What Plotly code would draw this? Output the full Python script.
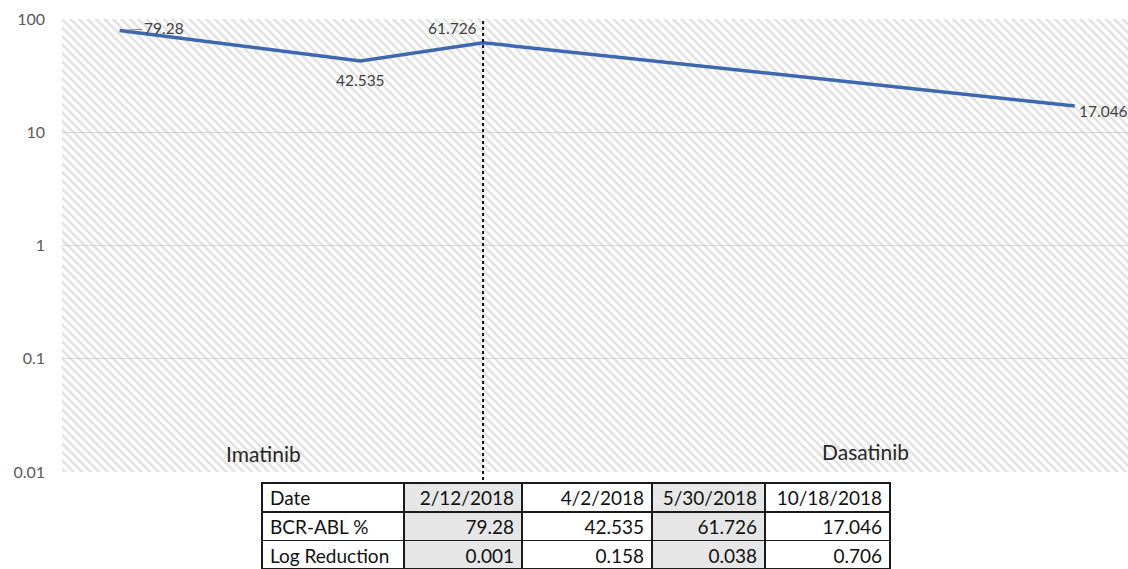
import math
import plotly.graph_objects as go

# ---- data ----
dates = ["2/12/2018", "4/2/2018", "5/30/2018", "10/18/2018"]
bcr_abl = [79.28, 42.535, 61.726, 17.046]
bcr_abl_text = ["79.28", "42.535", "61.726", "17.046"]
log_reduction = ["0.001", "0.158", "0.038", "0.706"]
timeline_pos = [5.4, 28.0, 39.5, 95.0]   # position along the (unevenly drawn) time axis
switch_index = 2                          # therapy switch at 3rd measurement
phase_labels = ["Imatinib", "Dasatinib"]
y_ticks = [0.01, 0.1, 1, 10, 100]
y_tick_text = ["0.01", "0.1", "1", "10", "100"]
row_labels = ["Date", "BCR-ABL %", "Log Reduction"]

W, H = 1128, 569
FONT = "Lato"
TXT = "#404040"
GRAY_CELL = "#e6e6e6"

def px_x(p):
    return p / W

def px_y(p):
    return 1 - p / H

plot_x = [px_x(62), 1.0]
plot_y = [px_y(472), px_y(19)]

fig = go.Figure()

# hatched plot-area background (base axes)
fig.add_trace(go.Bar(
    x=[0], y=[1], width=[1], xaxis="x", yaxis="y",
    marker=dict(color="rgba(0,0,0,0)", line=dict(width=0),
                pattern=dict(shape="\\", fgcolor="#c4c4c4", bgcolor="rgba(0,0,0,0)",
                             size=6, solidity=0.42, fillmode="overlay")),
    hoverinfo="skip", showlegend=False,
))

# BCR-ABL line
fig.add_trace(go.Scatter(
    x=timeline_pos, y=bcr_abl, xaxis="x2", yaxis="y2",
    mode="lines", line=dict(color="#3d68b0", width=3.5),
    showlegend=False,
))

# data labels
label_cfg = [
    dict(ax=44, ay=-2, showarrow=True),
    dict(xanchor="center", yanchor="top", yshift=-8, showarrow=False),
    dict(xanchor="right", yanchor="bottom", xshift=-4, yshift=4, showarrow=False),
    dict(xanchor="left", yanchor="middle", xshift=2, yshift=-5, showarrow=False),
]
for xp, v, t, cfg in zip(timeline_pos, bcr_abl, bcr_abl_text, label_cfg):
    a = dict(x=xp, y=math.log10(v), xref="x2", yref="y2", text=t,
             font=dict(family=FONT, size=15.5, color=TXT))
    if cfg.get("showarrow"):
        a.update(showarrow=True, ax=cfg["ax"], ay=cfg["ay"], arrowhead=0,
                 arrowwidth=1, arrowcolor="#7f7f7f", standoff=7)
    else:
        a.update(cfg)
    fig.add_annotation(**a)

# phase labels
fig.add_annotation(x=18.9, y=math.log10(0.0145), xref="x2", yref="y2",
                   text=phase_labels[0], showarrow=False,
                   font=dict(family=FONT, size=21, color="#262626"))
fig.add_annotation(x=75.4, y=math.log10(0.0152), xref="x2", yref="y2",
                   text=phase_labels[1], showarrow=False,
                   font=dict(family=FONT, size=21, color="#262626"))

# switch line
fig.add_shape(type="line", xref="x2", yref="paper",
              x0=timeline_pos[switch_index], x1=timeline_pos[switch_index],
              y0=px_y(480), y1=plot_y[1],
              line=dict(color="#111111", width=2, dash="dot"))

# table
fills_header = ["white", GRAY_CELL, "white", GRAY_CELL, "white"]
fig.add_trace(go.Table(
    domain=dict(x=[px_x(262), px_x(890)], y=[0, px_y(483)]),
    columnwidth=[142, 118, 130, 113, 125],
    header=dict(values=[row_labels[0]] + dates,
                fill=dict(color=fills_header),
                line=dict(color="#1a1a1a", width=1.5),
                align=["left", "right", "right", "right", "right"],
                font=dict(family=FONT, size=19, color="#111111"),
                height=29),
    cells=dict(values=[row_labels[1:]] + [[b, l] for b, l in zip(bcr_abl_text, log_reduction)],
               fill=dict(color=[[c, c] for c in fills_header]),
               line=dict(color="#1a1a1a", width=1.5),
               align=["left", "right", "right", "right", "right"],
               font=dict(family=FONT, size=19, color="#111111"),
               height=28.5),
))

fig.update_layout(
    width=W, height=H,
    margin=dict(l=0, r=0, t=0, b=0, autoexpand=False),
    paper_bgcolor="white", plot_bgcolor="rgba(0,0,0,0)",
    showlegend=False,
    bargap=0,
    xaxis=dict(domain=plot_x, range=[-0.5, 0.5], visible=False, fixedrange=True,
               automargin=False),
    yaxis=dict(domain=plot_y, range=[0, 1], visible=False, fixedrange=True,
               automargin=False),
    xaxis2=dict(overlaying="x", range=[0, 100], visible=False, automargin=False),
    yaxis2=dict(overlaying="y", type="log", range=[-2, 2], automargin=False,
                tickvals=y_ticks, ticktext=y_tick_text,
                showgrid=True, gridcolor="#d9d9d9", gridwidth=1,
                zeroline=False, showline=False, ticks="",
                ticklabelstandoff=16,
                tickfont=dict(family=FONT, size=16, color="#595959")),
)

fig.write_html(
    "out.html",
    config={"displayModeBar": False},
    post_script="document.body.style.margin='0';document.body.style.overflow='hidden';",
)
